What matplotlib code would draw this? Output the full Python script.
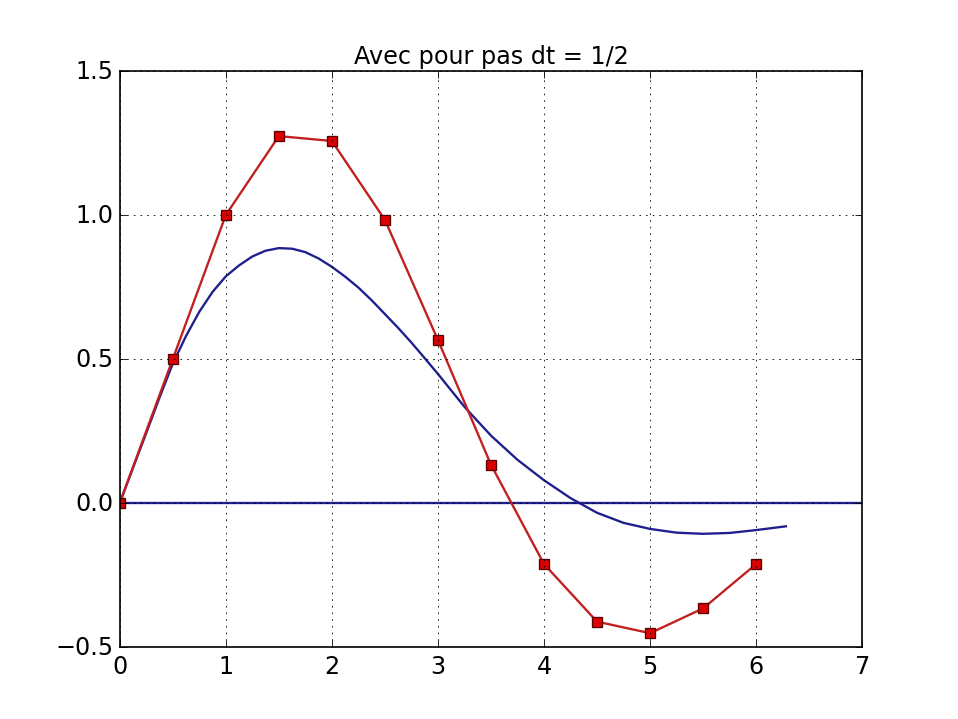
import matplotlib
matplotlib.use("Agg")
import matplotlib.pyplot as plt

# Euler scheme, step dt = 1/2
t_euler = [0, 0.5, 1.0, 1.5, 2.0, 2.5, 3.0, 3.5, 4.0, 4.5, 5.0, 5.5, 6.0]
x_euler = [0, 0.5, 1.0, 1.274, 1.257, 0.983, 0.566, 0.133, -0.212, -0.412, -0.452, -0.366, -0.212]

# exact solution
t_exact = [0, 0.125, 0.25, 0.375, 0.5, 0.625, 0.75, 0.875, 1.0, 1.125, 1.25, 1.375,
           1.5, 1.625, 1.75, 1.875, 2.0, 2.125, 2.25, 2.375, 2.5, 2.625, 2.75, 2.875,
           3.0, 3.25, 3.5, 3.75, 4.0, 4.25, 4.5, 4.75, 5.0, 5.25, 5.5, 5.75, 6.0, 6.28]
x_exact = [0, 0.122, 0.243, 0.366, 0.484, 0.58, 0.664, 0.733, 0.787, 0.825, 0.856, 0.876,
           0.885, 0.883, 0.871, 0.849, 0.82, 0.786, 0.748, 0.704, 0.656, 0.608, 0.557, 0.503,
           0.448, 0.334, 0.234, 0.150, 0.079, 0.017, -0.034, -0.069, -0.090, -0.103, -0.107,
           -0.104, -0.094, -0.081]

plt.style.use("classic")
plt.rcParams["font.size"] = 14.4

fig = plt.figure(figsize=(8.0, 6.0125), dpi=119.75)
ax = fig.add_subplot(111)

ax.plot(t_exact, x_exact, color="#1f1f8f", lw=1.4)
ax.axhline(0, color="#1f1f8f", lw=1.4)
ax.plot(t_euler, x_euler, "-s", color="#c21f1f", mfc="#dd0000", mec="#5a0000",
        ms=6, mew=0.8, lw=1.4)

ax.set_xlim(0, 7)
ax.set_ylim(-0.5, 1.5)
ax.set_yticks([-0.5, 0.0, 0.5, 1.0, 1.5])
ax.grid(True)
ax.set_title("Avec pour pas dt = 1/2", fontsize=14.4)

fig.savefig("out.png", dpi=119.75)
